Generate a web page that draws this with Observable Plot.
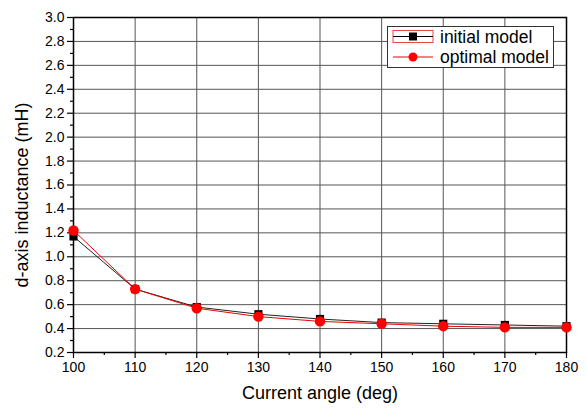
<!DOCTYPE html>
<html><head><meta charset="utf-8">
<script src="https://cdn.jsdelivr.net/npm/d3@7"></script>
<script src="https://cdn.jsdelivr.net/npm/@observablehq/plot@0.6"></script>
<style>
body{margin:0;background:#fff;font-family:"Liberation Sans",Arial,sans-serif;}
#wrap{position:relative;width:587px;height:410px;}
#legend{position:absolute;left:387px;top:26px;width:165px;height:40px;border:1px solid #333;background:#fff;font-size:17.5px;color:#000;line-height:20px;}
.row{position:absolute;left:0;height:20px;display:flex;align-items:center;}
</style></head><body>
<div id="wrap"></div>
<script>
const angles = [100,110,120,130,140,150,160,170,180];
const initialModel = [1.17,0.73,0.58,0.52,0.48,0.45,0.44,0.43,0.42];
const optimalModel = [1.22,0.73,0.57,0.50,0.46,0.44,0.42,0.41,0.41];
const xTicks = [100,110,120,130,140,150,160,170,180];
const xMinor = [105,115,125,135,145,155,165,175];
const yTicks = [0.2,0.4,0.6,0.8,1.0,1.2,1.4,1.6,1.8,2.0,2.2,2.4,2.6,2.8,3.0];
const yMinor = [0.3,0.5,0.7,0.9,1.1,1.3,1.5,1.7,1.9,2.1,2.3,2.5,2.7,2.9];

const initData = angles.map((a,i)=>({a, v: initialModel[i]}));
const optData = angles.map((a,i)=>({a, v: optimalModel[i]}));

const chart = Plot.plot({
  width: 587, height: 410,
  marginLeft: 73, marginRight: 21, marginTop: 17, marginBottom: 58,
  style: {fontFamily: '"Liberation Sans",Arial,sans-serif', fontSize: "14px", color:"#000", background:"#fff"},
  x: {domain: [100,180]},
  y: {domain: [0.2,3.0]},
  marks: [
    Plot.gridX(xTicks, {stroke:"#555", strokeOpacity:1, strokeWidth:1}),
    Plot.gridY(yTicks, {stroke:"#555", strokeOpacity:1, strokeWidth:1}),
    Plot.axisX(xTicks, {tickSize:6, tickPadding:4, tickFormat: d=>String(d), fontSize:14, label:null, strokeWidth:1.2}),
    Plot.axisX(xMinor, {tickSize:3, tickFormat: ()=>"", label:null, strokeWidth:1.2}),
    Plot.axisY(yTicks, {tickSize:6, tickPadding:3, tickFormat: d=>d.toFixed(1), fontSize:14, label:null, strokeWidth:1.2}),
    Plot.axisY(yMinor, {tickSize:3, tickFormat: ()=>"", label:null, strokeWidth:1.2}),
    Plot.frame({stroke:"#000", strokeWidth:1.5}),
    Plot.line(initData, {x:"a", y:"v", stroke:"#222", strokeWidth:1}),
    Plot.line(optData, {x:"a", y:"v", stroke:"#e00", strokeWidth:1}),
    Plot.dot(initData, {x:"a", y:"v", symbol:"square", r:4.6, fill:"#000", stroke:"none"}),
    Plot.dot(optData, {x:"a", y:"v", symbol:"circle", r:5.2, fill:"#f00", stroke:"none"}),
    Plot.text(["Current angle (deg)"], {frameAnchor:"bottom", dy:46, fontSize:18, text:d=>d}),
    Plot.text(["d-axis inductance (mH)"], {frameAnchor:"left", textAnchor:"middle", dx:-51, dy:10, rotate:-90, fontSize:18, text:d=>d})
  ]
});
const wrap = document.getElementById("wrap");
wrap.appendChild(chart);

const legend = document.createElement("div");
legend.id = "legend";
legend.innerHTML = `
<div class="row" style="top:0px;">
  <svg width="46" height="20" style="margin-left:4px"><rect x="1" y="3.5" width="40" height="12" fill="none" stroke="#e44" stroke-width="1"/><line x1="1" x2="41" y1="9.5" y2="9.5" stroke="#000"/><rect x="17" y="5.5" width="8" height="8" fill="#000"/></svg>
  <span style="margin-left:2px">initial model</span></div>
<div class="row" style="top:20px;">
  <svg width="46" height="20" style="margin-left:4px"><line x1="1" x2="41" y1="10" y2="10" stroke="#e00"/><circle cx="21" cy="10" r="4.5" fill="#f00"/></svg>
  <span style="margin-left:2px">optimal model</span></div>`;
wrap.appendChild(legend);
</script>
</body></html>
